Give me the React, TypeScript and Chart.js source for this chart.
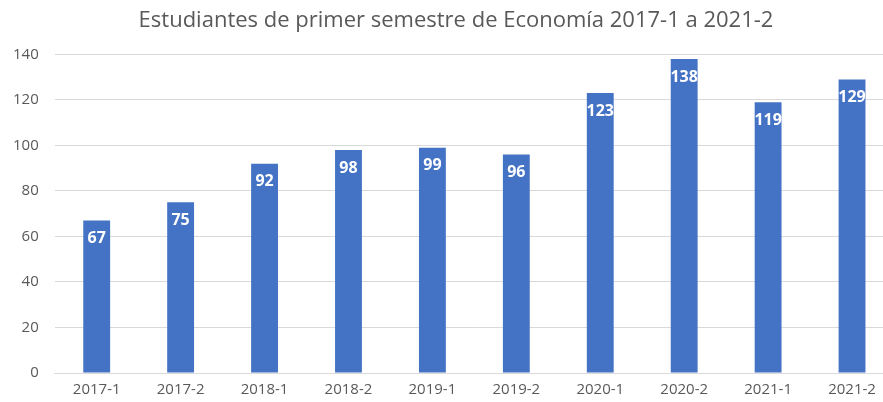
import React, { useEffect, useRef } from "react";
import { Chart, registerables } from "chart.js";

Chart.register(...registerables);

const categories = ["2017-1", "2017-2", "2018-1", "2018-2", "2019-1", "2019-2", "2020-1", "2020-2", "2021-1", "2021-2"];
const students = [67, 75, 92, 98, 99, 96, 123, 138, 119, 129];
const titleText = "Estudiantes de primer semestre de Economía 2017-1 a 2021-2";

const FONT = "'Open Sans', 'Noto Sans', sans-serif";

const labelPlugin = {
  id: "barLabels",
  afterDatasetsDraw(chart: any) {
    const ctx = chart.ctx;
    const meta = chart.getDatasetMeta(0);
    ctx.save();
    ctx.fillStyle = "#ffffff";
    ctx.font = `bold 16px ${FONT}`;
    ctx.textAlign = "center";
    ctx.textBaseline = "middle";
    meta.data.forEach((bar: any, i: number) => {
      ctx.fillText(String(students[i]), bar.x, bar.y + 18);
    });
    ctx.restore();
  },
};

const titlePlugin = {
  id: "centeredTitle",
  afterDraw(chart: any) {
    const tb = chart.titleBlock;
    if (!tb) return;
    const ctx = chart.ctx;
    ctx.save();
    ctx.fillStyle = "#595959";
    ctx.font = `normal 22px ${FONT}`;
    ctx.textAlign = "center";
    ctx.textBaseline = "middle";
    const y = tb.top + (tb.height - 20) / 2;
    ctx.fillText(titleText, 459, y);
    ctx.restore();
  },
};

export default function App() {
  const ref = useRef<HTMLCanvasElement>(null);
  useEffect(() => {
    document.body.style.overflow = "hidden";
    const chart = new Chart(ref.current!, {
      type: "bar",
      data: {
        labels: categories,
        datasets: [
          {
            data: students,
            backgroundColor: "#4472C4",
            categoryPercentage: 1,
            barPercentage: 0.32,
          },
        ],
      },
      options: {
        responsive: false,
        animation: false,
        layout: { padding: { left: 0, right: 15, top: 8, bottom: 3 } },
        plugins: {
          legend: { display: false },
          tooltip: { enabled: false },
          title: {
            display: true,
            text: titleText,
            color: "rgba(0,0,0,0)",
            font: { family: FONT, size: 22, weight: "normal" },
            padding: { top: 0, bottom: 20 },
          },
        },
        scales: {
          x: {
            grid: { display: false },
            border: { display: true, color: "#d9d9d9" },
            ticks: { color: "#595959", font: { family: FONT, size: 15 }, padding: 0 },
          },
          y: {
            min: 0,
            max: 140,
            ticks: { stepSize: 20, color: "#595959", font: { family: FONT, size: 15 }, padding: 16 },
            grid: { color: "#d9d9d9", drawTicks: false },
            border: { display: false },
          },
        },
      },
      plugins: [labelPlugin, titlePlugin],
    });
    return () => chart.destroy();
  }, []);
  return (
    <div style={{ position: "fixed", left: 0, top: 0, width: 883, height: 402, overflow: "hidden", background: "#fff" }}>
      <canvas ref={ref} width={912} height={402} style={{ width: 912, height: 402, marginLeft: -3, display: "block" }} />
    </div>
  );
}
